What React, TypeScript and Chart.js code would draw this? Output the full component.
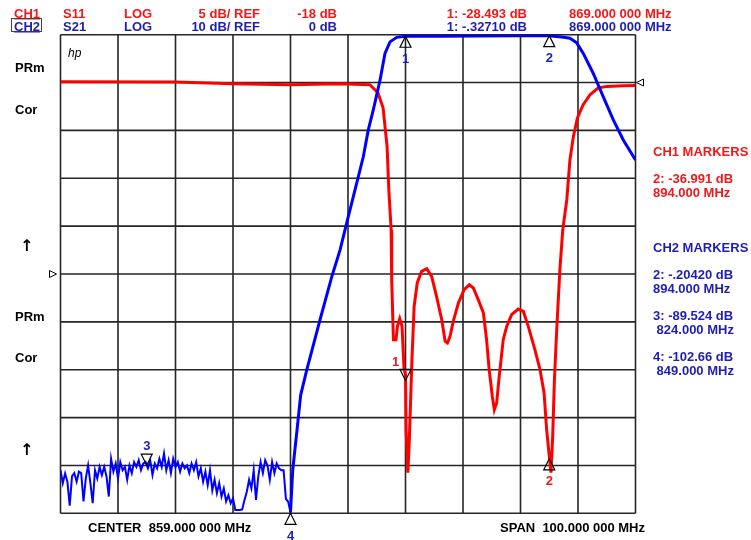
import React, { useEffect, useRef } from "react";
import { Chart, registerables } from "chart.js";

Chart.register(...registerables);

// ---- sweep / axis settings ----
const SWEEP_START_MHZ = 809; // CENTER 859, SPAN 100
const SWEEP_STOP_MHZ = 909;
const GRID_MHZ = [809, 819, 829, 839, 849, 859, 869, 879, 889, 899, 909];
const CH1_DB_RANGE = [-43, 7]; // S11: 5 dB/div, REF -18 dB at centre line
const CH2_DB_RANGE = [-100, 0]; // S21: 10 dB/div, REF 0 dB at top
const CH2_GRID_DB = [0, -10, -20, -30, -40, -50, -60, -70, -80, -90, -100];

// ---- CH2 (S21) stop-band noise floor, sweep points from 809 MHz every 0.4 MHz ----
const NOISE_STEP_MHZ = 0.4;
const S21_NOISE_DB = [
  -91, -93.7, -91.7, -93.4, -98.4, -92.3, -91.6, -93.4, -91.3, -91.6,
  -97.5, -92.7, -90, -93.7, -97.9, -91, -92.7, -90.3, -92, -90.3,
  -92.3, -96.5, -88.6, -91.3, -89.6, -92.7, -89.3, -91, -90.3, -93,
  -90, -91.6, -89.3, -90.3, -88.9, -91, -89.6, -89.3, -90.6, -88.9,
  -92, -89.6, -90.6, -88.6, -90.3, -87.5, -91, -88.9, -91.6, -88.6,
  -90.3, -89.3, -91.3, -89.6, -90.6, -90, -91.6, -89.6, -91, -89.3,
  -92.3, -90.6, -93.4, -91.3, -94.1, -91, -95.2, -93, -95.8, -93.7,
  -96.5, -94.8, -97.5, -96.2, -97.9, -96.9, -99.3, -99.3, -99.3, -99.2,
  -97.2, -95.5, -93, -94.8, -91, -97.2, -92.3, -89.3, -91.6, -88.9,
  -90, -93, -89.3, -91.6, -89.6, -90.6, -91, -91, -97, -97.6, -99.8,
];

// ---- CH2 (S21) passband ----
const S21_TAIL_MHZ = [
  849.39, 850.08, 850.77, 851.82, 854.13, 856.17, 857.61, 859.05, 860.22, 861.66,
  862.53, 863.4, 864.57, 865.43, 866.3, 867.47, 869.0, 875, 881, 888,
  894, 896.5, 897.6, 898.77, 899.92, 901.66, 903.4, 905.14, 906.88, 909,
];
const S21_TAIL_DB = [
  -90.95, -83.2, -75.3, -70.1, -59.6, -50.6, -45.0, -38.0, -32.4, -25.5,
  -19.9, -15.7, -9.5, -3.9, -1.5, -0.55, -0.33, -0.3, -0.27, -0.24,
  -0.2, -0.55, -0.75, -1.7, -3.9, -8.1, -13.0, -17.8, -22.0, -26.2,
];

// ---- CH1 (S11) ----
const S11_MHZ = [
  809, 829, 839, 849, 857.6, 862.8, 864.2, 865.1, 865.8, 866.1,
  866.5, 866.6, 866.9, 867.35, 867.6, 868.0, 868.4, 868.75, 869.0, 869.1,
  869.4, 869.65, 870.1, 870.5, 871.05, 871.8, 872.7, 873.55, 874.4, 875.3,
  875.9, 876.3, 876.75, 877.3, 878.2, 879.2, 880.1, 880.8, 881.65, 882.55,
  883.1, 883.55, 884.1, 884.45, 884.85, 885.3, 886.0, 886.6, 887.45, 888.6,
  889.5, 890.35, 891.5, 892.4, 893.1, 893.55, 894.0, 894.3, 894.6, 894.9,
  895.3, 895.85, 896.35, 897.05, 897.6, 898.2, 898.9, 899.9, 901.1, 902.5,
  904.0, 906.9, 909,
];
const S11_DB = [
  2.09, 2.06, 1.88, 1.78, 1.88, 1.78, 0.94, -0.63, -4.7, -9.19,
  -13.37, -18.6, -24.86, -24.86, -23.47, -22.67, -23.47, -28.0, -28.49, -34.27,
  -38.76, -35.62, -27.27, -21.39, -18.91, -17.73, -17.45, -18.25, -20.34, -22.77,
  -25.04, -25.21, -24.52, -22.95, -21.03, -19.64, -19.12, -19.46, -20.68, -22.07,
  -24.86, -28.0, -30.79, -32.18, -31.48, -28.7, -24.86, -23.47, -22.25, -21.66,
  -21.91, -23.47, -25.91, -28.0, -30.43, -34.27, -36.99, -38.76, -34.97, -29.04,
  -23.82, -17.55, -13.37, -10.24, -6.06, -3.63, -1.7, -0.31, 0.73, 1.43,
  1.6, 1.67, 1.7,
];

// ---- markers ----
const CH1_MARKER_NUM = [1, 2];
const CH1_MARKER_MHZ = [869, 894];
const CH1_MARKER_DB = [-28.493, -36.991];
const CH2_MARKER_NUM = [1, 2, 3, 4];
const CH2_MARKER_MHZ = [869, 894, 824, 849];
const CH2_MARKER_DB = [-0.3271, -0.2042, -89.524, -102.66];

const RED = "#ff0000";
const BLUE = "#0000ff";
const RED_TEXT = "#f01818";
const BLUE_TEXT = "#1e1eb4";
const FONT = '"Liberation Sans", Arial, Helvetica, sans-serif';

type LabelProps = {
  x: number;
  y: number;
  text: string;
  color?: string;
  right?: boolean;
  extra?: React.CSSProperties;
};

function Label({ x, y, text, color = "#000", right = false, extra }: LabelProps) {
  const style: React.CSSProperties = {
    position: "absolute",
    top: y,
    transform: "translateY(-50%)",
    font: `bold 13px ${FONT}`,
    lineHeight: "13px",
    color,
    whiteSpace: "pre",
    ...(right ? { right: 751 - x } : { left: x }),
    ...extra,
  };
  return <div style={style}>{text}</div>;
}

function tri(ctx: CanvasRenderingContext2D, x: number, y: number, dir: string, s = 5.5, h = 11) {
  ctx.beginPath();
  if (dir === "up") {
    ctx.moveTo(x, y);
    ctx.lineTo(x - s, y + h);
    ctx.lineTo(x + s, y + h);
  } else if (dir === "down") {
    ctx.moveTo(x, y);
    ctx.lineTo(x - s, y - h);
    ctx.lineTo(x + s, y - h);
  } else if (dir === "left") {
    ctx.moveTo(x, y);
    ctx.lineTo(x + h, y - s);
    ctx.lineTo(x + h, y + s);
  } else {
    ctx.moveTo(x, y);
    ctx.lineTo(x - h, y - s);
    ctx.lineTo(x - h, y + s);
  }
  ctx.closePath();
  ctx.stroke();
}

export default function App() {
  const canvasRef = useRef<HTMLCanvasElement | null>(null);

  useEffect(() => {
    const canvas = canvasRef.current;
    if (!canvas) return;

    const s21Data = [
      ...S21_NOISE_DB.map((v, i) => ({ x: SWEEP_START_MHZ + i * NOISE_STEP_MHZ, y: v })),
      ...S21_TAIL_MHZ.map((f, i) => ({ x: f, y: S21_TAIL_DB[i] })),
    ];
    const s11Data = S11_MHZ.map((f, i) => ({ x: f, y: S11_DB[i] }));

    const gridPlugin = {
      id: "hpGrid",
      beforeDatasetsDraw(chart: any) {
        const { ctx, scales } = chart;
        const xs = scales.x;
        const ys = scales.y2;
        const top = ys.getPixelForValue(CH2_DB_RANGE[1]);
        const bottom = ys.getPixelForValue(CH2_DB_RANGE[0]);
        const left = xs.getPixelForValue(SWEEP_START_MHZ);
        const right = xs.getPixelForValue(SWEEP_STOP_MHZ);
        ctx.save();
        ctx.strokeStyle = "#262626";
        ctx.lineWidth = 1.6;
        ctx.beginPath();
        for (const f of GRID_MHZ) {
          const px = xs.getPixelForValue(f);
          ctx.moveTo(px, top);
          ctx.lineTo(px, bottom);
        }
        for (const d of CH2_GRID_DB) {
          const py = ys.getPixelForValue(d);
          ctx.moveTo(left, py);
          ctx.lineTo(right, py);
        }
        ctx.stroke();
        ctx.restore();
      },
    };

    const markerPlugin = {
      id: "hpMarkers",
      afterDatasetsDraw(chart: any) {
        const { ctx, scales } = chart;
        const xs = scales.x;
        const y1 = scales.y1;
        const y2 = scales.y2;
        ctx.save();
        ctx.strokeStyle = "#000";
        ctx.lineWidth = 1.2;
        ctx.font = `bold 13px ${FONT}`;
        ctx.textAlign = "center";
        ctx.textBaseline = "middle";

        // CH1 markers
        CH1_MARKER_NUM.forEach((n, i) => {
          const px = xs.getPixelForValue(CH1_MARKER_MHZ[i]);
          const py = y1.getPixelForValue(Math.max(CH1_DB_RANGE[0], CH1_MARKER_DB[i]));
          ctx.fillStyle = RED_TEXT;
          if (n === 1) {
            tri(ctx, px, py + 6, "down");
            ctx.fillText(String(n), px - 10, py - 12);
          } else {
            tri(ctx, px, py + 3, "up");
            ctx.fillText(String(n), px, py + 26);
          }
        });

        // CH2 markers
        CH2_MARKER_NUM.forEach((n, i) => {
          const px = xs.getPixelForValue(CH2_MARKER_MHZ[i]);
          const py = y2.getPixelForValue(Math.max(CH2_DB_RANGE[0], CH2_MARKER_DB[i]));
          ctx.fillStyle = BLUE_TEXT;
          if (n === 3) {
            tri(ctx, px, py + 2, "down");
            ctx.fillText(String(n), px, py - 17);
          } else {
            tri(ctx, px, py, "up");
            ctx.fillText(String(n), px, py + 23);
          }
        });

        // reference position indicators
        ctx.lineWidth = 1;
        const rightX = xs.getPixelForValue(SWEEP_STOP_MHZ);
        const leftX = xs.getPixelForValue(SWEEP_START_MHZ);
        tri(ctx, rightX + 1, y2.getPixelForValue(-10), "left", 3.5, 7);
        tri(ctx, leftX - 4, y1.getPixelForValue(-18), "right", 3.5, 7);
        ctx.restore();
      },
    };

    const chart = new Chart(canvas, {
      type: "line",
      data: {
        datasets: [
          {
            label: "S21",
            data: s21Data,
            xAxisID: "x",
            yAxisID: "y2",
            borderColor: BLUE,
            borderWidth: 3,
            pointRadius: 0,
            tension: 0,
            fill: false,
            segment: {
              borderWidth: (c: any) => (c.p1.parsed.x <= 849.01 ? 2 : 3),
            },
          } as any,
          {
            label: "S11",
            data: s11Data,
            xAxisID: "x",
            yAxisID: "y1",
            borderColor: RED,
            borderWidth: 3,
            pointRadius: 0,
            tension: 0,
            fill: false,
          },
        ],
      },
      options: {
        animation: false,
        responsive: false,
        events: [],
        layout: { padding: { left: 60.5, top: 34.7, right: 115.5, bottom: 26.7 } },
        plugins: { legend: { display: false }, tooltip: { enabled: false } },
        scales: {
          x: { type: "linear", min: SWEEP_START_MHZ, max: SWEEP_STOP_MHZ, display: false },
          y1: { type: "linear", min: CH1_DB_RANGE[0], max: CH1_DB_RANGE[1], display: false },
          y2: { type: "linear", min: CH2_DB_RANGE[0], max: CH2_DB_RANGE[1], display: false },
        },
      },
      plugins: [gridPlugin, markerPlugin],
    });
    return () => chart.destroy();
  }, []);

  const arrowStyle: React.CSSProperties = {
    fontFamily: '"DejaVu Sans", sans-serif',
    fontWeight: "bold",
    fontSize: 16,
    lineHeight: "16px",
  };

  return (
    <div
      style={{
        position: "absolute",
        left: 0,
        top: 0,
        width: 751,
        height: 540,
        background: "#fff",
        overflow: "hidden",
      }}
    >
      <canvas
        ref={canvasRef}
        width={751}
        height={540}
        style={{ position: "absolute", left: 0, top: 0, width: 751, height: 540 }}
      />

      {/* header row 1 (CH1) */}
      <Label x={14} y={13} text="CH1" color={RED_TEXT} extra={{ textDecoration: "underline" }} />
      <Label x={63} y={13} text="S11" color={RED_TEXT} />
      <Label x={124} y={13} text="LOG" color={RED_TEXT} />
      <Label x={260} y={13} text="5 dB/ REF" color={RED_TEXT} right />
      <Label x={337} y={13} text="-18 dB" color={RED_TEXT} right />
      <Label x={527} y={13} text="1: -28.493 dB" color={RED_TEXT} right />
      <Label x={569} y={13} text="869.000 000 MHz" color={RED_TEXT} />

      {/* header row 2 (CH2) */}
      <div
        style={{
          position: "absolute",
          left: 11,
          top: 18,
          width: 29,
          height: 12,
          border: "1.5px solid #444",
        }}
      />
      <Label x={14} y={26} text="CH2" color={BLUE_TEXT} extra={{ textDecoration: "underline" }} />
      <Label x={63} y={26} text="S21" color={BLUE_TEXT} />
      <Label x={124} y={26} text="LOG" color={BLUE_TEXT} />
      <Label x={260} y={26} text="10 dB/ REF" color={BLUE_TEXT} right />
      <Label x={337} y={26} text="0 dB" color={BLUE_TEXT} right />
      <Label x={527} y={26} text="1: -.32710 dB" color={BLUE_TEXT} right />
      <Label x={569} y={26} text="869.000 000 MHz" color={BLUE_TEXT} />

      {/* left annotations */}
      <div
        style={{
          position: "absolute",
          left: 68,
          top: 53,
          transform: "translateY(-50%)",
          font: `italic 12px ${FONT}`,
          lineHeight: "12px",
          color: "#000",
        }}
      >
        hp
      </div>
      <Label x={15} y={67} text="PRm" />
      <Label x={15} y={109} text="Cor" />
      <Label x={20} y={246} text="↑" extra={arrowStyle} />
      <Label x={15} y={316} text="PRm" />
      <Label x={15} y={357} text="Cor" />
      <Label x={20} y={450} text="↑" extra={arrowStyle} />

      {/* right marker readouts */}
      <Label x={653} y={151} text="CH1 MARKERS" color={RED_TEXT} />
      <Label x={653} y={178} text="2: -36.991 dB" color={RED_TEXT} />
      <Label x={653} y={192} text="894.000 MHz" color={RED_TEXT} />
      <Label x={653} y={247} text="CH2 MARKERS" color={BLUE_TEXT} />
      <Label x={653} y={274} text="2: -.20420 dB" color={BLUE_TEXT} />
      <Label x={653} y={288} text="894.000 MHz" color={BLUE_TEXT} />
      <Label x={653} y={315} text="3: -89.524 dB" color={BLUE_TEXT} />
      <Label x={653} y={329} text=" 824.000 MHz" color={BLUE_TEXT} />
      <Label x={653} y={356} text="4: -102.66 dB" color={BLUE_TEXT} />
      <Label x={653} y={370} text=" 849.000 MHz" color={BLUE_TEXT} />

      {/* bottom */}
      <Label x={88} y={527} text="CENTER  859.000 000 MHz" />
      <Label x={500} y={527} text="SPAN  100.000 000 MHz" />
    </div>
  );
}
